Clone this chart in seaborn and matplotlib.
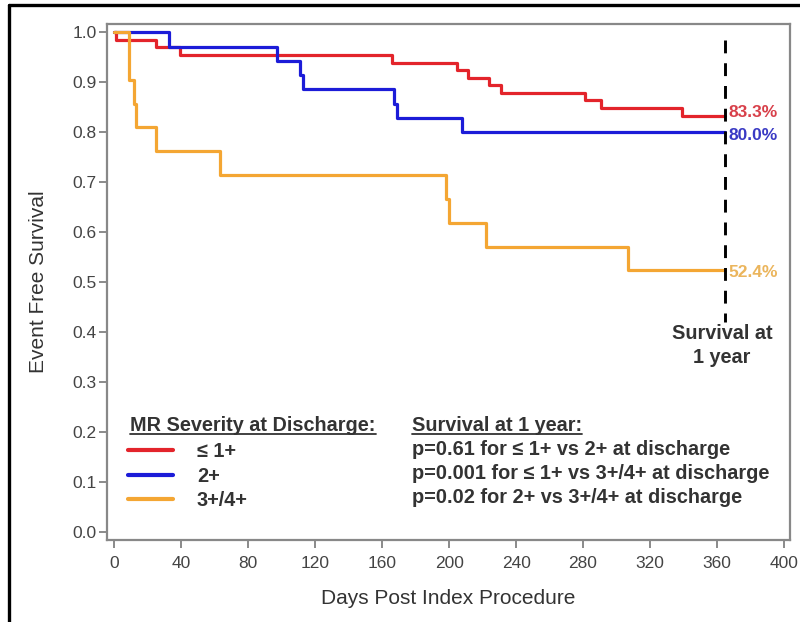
import matplotlib
matplotlib.use("Agg")
import matplotlib.pyplot as plt
import seaborn as sns
import pandas as pd
from matplotlib.lines import Line2D

# Kaplan-Meier step data (day, event-free survival) per MR severity group
groups = ["≤ 1+", "2+", "3+/4+"]
days_le1 = [0, 1, 25, 39, 166, 205, 211, 224, 231, 281, 291, 339, 365]
surv_le1 = [1.0, 0.985, 0.970, 0.955, 0.939, 0.924, 0.909, 0.894, 0.879,
            0.864, 0.848, 0.833, 0.833]
days_2 = [0, 33, 97, 111, 113, 167, 169, 208, 365]
surv_2 = [1.0, 0.971, 0.943, 0.914, 0.886, 0.857, 0.829, 0.800, 0.800]
days_34 = [0, 9, 12, 13, 25, 63, 198, 200, 222, 307, 365]
surv_34 = [1.0, 0.905, 0.857, 0.810, 0.762, 0.714, 0.667, 0.619, 0.571,
           0.524, 0.524]
one_year = 365

x_ticks = list(range(0, 401, 40))
y_ticks = [i / 10 for i in range(0, 11)]

stats_header = "Survival at 1 year:"
stats_lines = [
    "p=0.61 for ≤ 1+ vs 2+ at discharge",
    "p=0.001 for ≤ 1+ vs 3+/4+ at discharge",
    "p=0.02 for 2+ vs 3+/4+ at discharge",
]
legend_header = "MR Severity at Discharge:"

colors = {"≤ 1+": "#e3242b", "2+": "#1c1cd8", "3+/4+": "#f4a633"}
pct_colors = {"≤ 1+": "#d8404a", "2+": "#3a3ac4", "3+/4+": "#ebb55c"}
text_color = "#333333"
bold_size = 14.3

frames = []
for g, d, s in zip(groups, [days_le1, days_2, days_34],
                   [surv_le1, surv_2, surv_34]):
    frames.append(pd.DataFrame({"day": d, "surv": s, "group": g}))
df = pd.concat(frames, ignore_index=True)

sns.set_theme(style="ticks")
plt.rcParams["font.family"] = ["Liberation Sans", "DejaVu Sans"]

fig = plt.figure(figsize=(8.0, 6.22), dpi=100)
ax = fig.add_axes([0.134, 0.1318, 0.8535, 0.8296])

sns.lineplot(data=df, x="day", y="surv", hue="group", hue_order=groups,
             palette=colors, estimator=None, sort=True, ax=ax,
             drawstyle="steps-post", linewidth=2.3, legend=True)

# 1-year reference line, dashes starting from the top
ax.vlines(one_year, 0.984, 0.42, color="black", linewidth=2.1,
          linestyle=(0, (4.4, 3.4)), zorder=5)
ax.text(one_year - 2, 0.398, "Survival at", ha="center", va="center",
        fontsize=bold_size, fontweight="bold", color=text_color)
ax.text(one_year - 2, 0.350, "1 year", ha="center", va="center",
        fontsize=bold_size, fontweight="bold", color=text_color)

# survival percentages at 1 year
offsets = {"≤ 1+": 0.007, "2+": -0.006, "3+/4+": -0.004}
for g, s in zip(groups, [surv_le1, surv_2, surv_34]):
    ax.text(one_year + 2, s[-1] + offsets[g], f"{s[-1] * 100:.1f}%",
            ha="left", va="center", fontsize=12.5, fontweight="bold",
            color=pct_colors[g])

ax.set_xlim(-4.2, 403.6)
ax.set_ylim(-0.016, 1.016)
ax.set_xticks(x_ticks)
ax.set_yticks(y_ticks)
ax.set_yticklabels([f"{v:.1f}" for v in y_ticks])
ax.tick_params(axis="both", length=5.5, width=1.2, color="#777777",
               labelsize=12.5, labelcolor="#444444", pad=2)
ax.tick_params(axis="x", pad=6)
for sp in ax.spines.values():
    sp.set_color("#888888")
    sp.set_linewidth(1.6)

ax.set_xlabel("Days Post Index Procedure", fontsize=15, color=text_color)
ax.set_ylabel("Event Free Survival", fontsize=15, color=text_color)
ax.xaxis.set_label_coords(0.5, -0.095)
ax.yaxis.set_label_coords(-0.086, 0.5)

# legend for the severity groups
handles, labels = ax.get_legend_handles_labels()
leg = ax.legend(handles, labels, loc="upper left",
                bbox_to_anchor=(0.031, 0.19), frameon=False,
                handlelength=2.27, handletextpad=1.18, labelspacing=0.28,
                borderpad=0, borderaxespad=0,
                prop={"weight": "bold", "size": bold_size})
for t in leg.get_texts():
    t.set_color(text_color)
for h in leg.get_lines():
    h.set_linewidth(3.0)

hdr1 = ax.text(9.6, 0.214, legend_header, ha="left", va="center",
               fontsize=bold_size, fontweight="bold", color=text_color)
hdr2 = ax.text(178, 0.214, stats_header, ha="left", va="center",
               fontsize=bold_size, fontweight="bold", color=text_color)
for i, line in enumerate(stats_lines):
    ax.text(178, 0.166 - i * 0.048, line, ha="left", va="center",
            fontsize=bold_size, fontweight="bold", color=text_color)

# underline the two headers
fig.canvas.draw()
renderer = fig.canvas.get_renderer()
inv = fig.transFigure.inverted()
for hdr in (hdr1, hdr2):
    bb = hdr.get_window_extent(renderer)
    (x0, y0), (x1, _) = inv.transform([(bb.x0, bb.y0 + 1), (bb.x1, bb.y0)])
    fig.add_artist(Line2D([x0, x1], [y0, y0], transform=fig.transFigure,
                          color=text_color, linewidth=1.3))

# figure frame on the left and top edges
fig.add_artist(Line2D([9 / 800, 9 / 800], [0, 1 - 5 / 622],
                      transform=fig.transFigure, color="black", linewidth=2.4))
fig.add_artist(Line2D([9 / 800, 1], [1 - 5 / 622, 1 - 5 / 622],
                      transform=fig.transFigure, color="black", linewidth=2.4))

fig.savefig("out.png", dpi=100, facecolor="white")
